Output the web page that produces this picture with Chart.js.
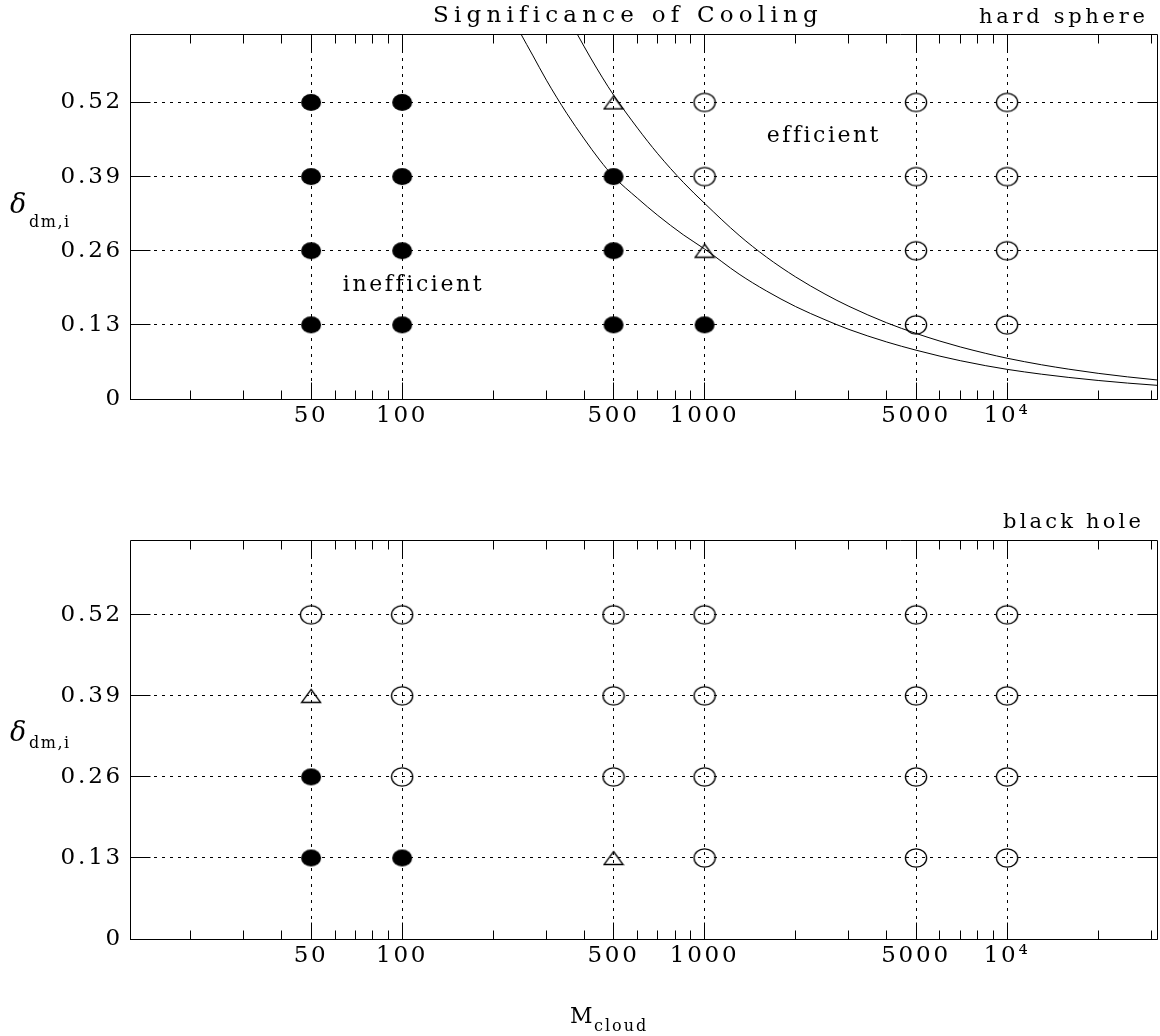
<!DOCTYPE html>
<html><head><meta charset="utf-8">
<script src="https://cdn.jsdelivr.net/npm/chart.js@4/dist/chart.umd.min.js"></script>
<style>
html,body{margin:0;padding:0;background:#fff;overflow:hidden;}
#wrap{position:relative;width:1160px;height:1036px;background:#fff;overflow:hidden;}
canvas{position:absolute;left:0;}
#c1{top:0;}
#c2{top:460px;}
</style></head><body>
<div id="wrap"><canvas id="c1" width="1180" height="460"></canvas><canvas id="c2" width="1180" height="576"></canvas></div>
<script>
// ---------- axis ticks ----------
const massTicks = [50, 100, 500, 1000, 5000, 10000];
const massTickLabels = ['50', '100', '500', '1000', '5000', '10⁴'];
const massMinorTicks = [20,30,40,60,70,80,90,200,300,400,600,700,800,900,2000,3000,4000,6000,7000,8000,9000,20000,30000];
const deltaTicks = [0, 0.13, 0.26, 0.39, 0.52];
const deltaTickLabels = ['0', '0.13', '0.26', '0.39', '0.52'];
const massMin = 12.6, massMax = 31300;
const deltaMin = 0, deltaMax = 0.64;

// ---------- hard sphere panel ----------
const hsInefficientMass  = [50, 50, 50, 50, 100, 100, 100, 100, 500, 500, 500, 1000];
const hsInefficientDelta = [0.13, 0.26, 0.39, 0.52, 0.13, 0.26, 0.39, 0.52, 0.13, 0.26, 0.39, 0.13];
const hsMarginalMass  = [500, 1000];
const hsMarginalDelta = [0.52, 0.26];
const hsEfficientMass  = [1000, 1000, 5000, 5000, 5000, 5000, 10000, 10000, 10000, 10000];
const hsEfficientDelta = [0.39, 0.52, 0.13, 0.26, 0.39, 0.52, 0.13, 0.26, 0.39, 0.52];

// boundary curves
const curveLowerMass  = [236, 247, 270, 300, 350, 400, 450, 500, 600, 700, 850, 1000, 1300, 1600, 2000, 2500, 3000, 4000, 5000, 6000, 7000, 8500, 10000, 13000, 16000, 20000, 25000, 31300];
const curveLowerDelta = [0.66, 0.64, 0.603, 0.559, 0.501, 0.456, 0.419, 0.39, 0.352, 0.322, 0.288, 0.263, 0.219, 0.1895, 0.162, 0.139, 0.122, 0.100, 0.0856, 0.0751, 0.0672, 0.0584, 0.052, 0.0435, 0.0378, 0.0325, 0.0279, 0.024];
const curveUpperMass  = [365, 379, 420, 460, 500, 600, 700, 850, 1000, 1300, 1600, 2000, 2500, 3000, 4000, 5000, 6000, 7000, 8500, 10000, 13000, 16000, 20000, 25000, 31300];
const curveUpperDelta = [0.656, 0.64, 0.598, 0.563, 0.533, 0.475, 0.430, 0.380, 0.343, 0.287, 0.249, 0.214, 0.184, 0.1625, 0.1336, 0.115, 0.1015, 0.0913, 0.080, 0.0715, 0.060, 0.0523, 0.045, 0.0388, 0.0334];

// ---------- black hole panel ----------
const bhInefficientMass  = [50, 50, 100];
const bhInefficientDelta = [0.13, 0.26, 0.13];
const bhMarginalMass  = [50, 500];
const bhMarginalDelta = [0.39, 0.13];
const bhEfficientMass  = [50, 100, 100, 100, 500, 500, 500, 1000, 1000, 1000, 1000, 5000, 5000, 5000, 5000, 10000, 10000, 10000, 10000];
const bhEfficientDelta = [0.52, 0.26, 0.39, 0.52, 0.26, 0.39, 0.52, 0.13, 0.26, 0.39, 0.52, 0.13, 0.26, 0.39, 0.52, 0.13, 0.26, 0.39, 0.52];

// ---------- marker images ----------
function makeMarker(kind) {
  const c = document.createElement('canvas');
  const g = c.getContext('2d');
  if (kind === 'filled') {
    c.width = 22; c.height = 19;
    g.fillStyle = '#000';
    g.beginPath(); g.ellipse(11, 9.5, 10, 8.5, 0, 0, Math.PI * 2); g.fill();
  } else if (kind === 'open') {
    c.width = 24; c.height = 22;
    g.strokeStyle = '#000'; g.lineWidth = 1.3;
    g.beginPath(); g.ellipse(12, 11, 10.6, 9.2, 0, 0, Math.PI * 2); g.stroke();
  } else {
    c.width = 22; c.height = 16;
    g.strokeStyle = '#000'; g.lineWidth = 1.3;
    g.beginPath(); g.moveTo(11, 1.5); g.lineTo(20.5, 14.5); g.lineTo(1.5, 14.5); g.closePath(); g.stroke();
  }
  return c;
}
const imgFilled = makeMarker('filled');
const imgOpen = makeMarker('open');
const imgTri = makeMarker('triangle');

function markerDataset(label, mass, delta, img) {
  return { label, data: mass.map((m, i) => ({ x: m, y: delta[i] })), showLine: false,
           pointStyle: img, pointRadius: 10, pointHoverRadius: 10 };
}
function curveDataset(label, mass, delta) {
  return { label, data: mass.map((m, i) => ({ x: m, y: delta[i] })), showLine: true,
           pointRadius: 0, pointHoverRadius: 0, borderColor: '#000', borderWidth: 1,
           cubicInterpolationMode: 'monotone', fill: false };
}

// ---------- text items per canvas ----------
const textItems = {
  c1: [
    { text: 'Significance of Cooling', x: 433, y: 22, font: '23px "DejaVu Serif"', spacing: 5.2 },
    { text: 'hard sphere', x: 979, y: 23, font: '21px "DejaVu Serif"', spacing: 3.7 },
    { text: 'inefficient', dataX: 108, dataY: 0.20, font: '22px "DejaVu Serif"', spacing: 2.6, align: 'center', baseline: 'middle' },
    { text: 'efficient', dataX: 2455, dataY: 0.46, font: '22px "DejaVu Serif"', spacing: 2.5, align: 'center', baseline: 'middle' },
    { text: 'δ', x: 10, y: 213, font: 'italic 27px "DejaVu Serif"', spacing: 0 },
    { text: 'dm,i', x: 29, y: 227, font: '16px "DejaVu Serif"', spacing: 1.5 }
  ],
  c2: [
    { text: 'black hole', x: 1003, y: 68, font: '21px "DejaVu Serif"', spacing: 3.2 },
    { text: 'δ', x: 10, y: 281, font: 'italic 27px "DejaVu Serif"', spacing: 0 },
    { text: 'dm,i', x: 29, y: 288, font: '16px "DejaVu Serif"', spacing: 1.5 },
    { text: 'M', x: 570, y: 563, font: '22px "DejaVu Serif"', spacing: 0 },
    { text: 'cloud', x: 594, y: 571, font: '16px "DejaVu Serif"', spacing: 2 }
  ]
};

function align(p) { return Math.round(p - 0.5) + 0.5; }

const spacingPlugin = {
  id: 'spacing',
  beforeDraw(chart) { chart.ctx.letterSpacing = '2.8px'; }
};

const framePlugin = {
  id: 'frame',
  afterDraw(chart) {
    const { ctx, chartArea: a, scales: { x, y } } = chart;
    ctx.save();
    ctx.setLineDash([]);
    ctx.strokeStyle = '#000';
    ctx.lineWidth = 1;
    const L = align(a.left), R = align(a.right), T = align(a.top), B = align(a.bottom);
    ctx.beginPath();
    ctx.rect(L, T, R - L, B - T);
    const seg = (x1, y1, x2, y2) => { ctx.moveTo(x1, y1); ctx.lineTo(x2, y2); };
    massTicks.forEach(v => { const p = align(x.getPixelForValue(v)); seg(p, B, p, B - 17); seg(p, T, p, T + 17); });
    massMinorTicks.forEach(v => { const p = align(x.getPixelForValue(v)); seg(p, B, p, B - 9); seg(p, T, p, T + 9); });
    deltaTicks.forEach(v => { const p = align(y.getPixelForValue(v)); seg(L, p, L + 20, p); seg(R, p, R - 20, p); });
    ctx.stroke();
    ctx.restore();

    const items = textItems[chart.canvas.id] || [];
    items.forEach(t => {
      ctx.save();
      ctx.font = t.font;
      ctx.fillStyle = '#000';
      ctx.textAlign = t.align || 'left';
      ctx.textBaseline = t.baseline || 'alphabetic';
      ctx.letterSpacing = (t.spacing || 0) + 'px';
      let px = t.x, py = t.y;
      if (t.dataX !== undefined) px = x.getPixelForValue(t.dataX) + (t.align === 'center' ? (t.spacing || 0) / 2 : 0);
      if (t.dataY !== undefined) py = y.getPixelForValue(t.dataY);
      ctx.fillText(t.text, px, py);
      ctx.restore();
    });
  }
};

const plotRight = 1157;

function makeChart(id, datasets, padTop, xHeight) {
  const chart = new Chart(document.getElementById(id), {
    type: 'scatter',
    data: { datasets },
    options: {
      responsive: false,
      animation: false,
      devicePixelRatio: 1,
      layout: { padding: { top: padTop, right: 23, left: 0, bottom: 0 } },
      plugins: { legend: { display: false }, tooltip: { enabled: false }, title: { display: false } },
      events: [],
      scales: {
        x: {
          type: 'logarithmic', position: 'bottom', min: massMin, max: massMax,
          afterBuildTicks: s => { s.ticks = massTicks.map(v => ({ value: v })); },
          afterFit: s => { s.height = xHeight; s.paddingLeft = 0; s.paddingRight = 0; },
          grid: { display: true, drawOnChartArea: true, drawTicks: false, color: '#000', lineWidth: 1 },
          border: { display: false, dash: [3, 5] },
          ticks: {
            autoSkip: false, maxRotation: 0, minRotation: 0, padding: 3, color: '#000',
            font: { family: 'DejaVu Serif', size: 23 },
            callback: v => { const i = massTicks.indexOf(v); return i >= 0 ? massTickLabels[i] : ''; }
          }
        },
        y: {
          type: 'linear', position: 'left', min: deltaMin, max: deltaMax,
          afterBuildTicks: s => { s.ticks = deltaTicks.map(v => ({ value: v })); },
          afterFit: s => { s.width = 130; },
          grid: { display: true, drawOnChartArea: true, drawTicks: false, color: '#000', lineWidth: 1 },
          border: { display: false, dash: [3, 5] },
          ticks: {
            autoSkip: false, padding: 7, color: '#000',
            font: { family: 'DejaVu Serif', size: 23 },
            callback: v => { const i = deltaTicks.indexOf(v); return i >= 0 ? deltaTickLabels[i] : ''; }
          }
        }
      }
    },
    plugins: [spacingPlugin, framePlugin]
  });
  // nudge the right padding so the plot frame ends where the reference frame ends
  for (let k = 0; k < 4; k++) {
    const d = chart.chartArea.right - plotRight;
    if (Math.abs(d) < 0.5) break;
    chart.options.layout.padding.right = Math.max(0, chart.options.layout.padding.right + d);
    chart.update();
  }
  return chart;
}

makeChart('c1', [
  markerDataset('inefficient', hsInefficientMass, hsInefficientDelta, imgFilled),
  markerDataset('marginal', hsMarginalMass, hsMarginalDelta, imgTri),
  markerDataset('efficient', hsEfficientMass, hsEfficientDelta, imgOpen),
  curveDataset('lower boundary', curveLowerMass, curveLowerDelta),
  curveDataset('upper boundary', curveUpperMass, curveUpperDelta)
], 34, 61);

makeChart('c2', [
  markerDataset('inefficient', bhInefficientMass, bhInefficientDelta, imgFilled),
  markerDataset('marginal', bhMarginalMass, bhMarginalDelta, imgTri),
  markerDataset('efficient', bhEfficientMass, bhEfficientDelta, imgOpen)
], 80, 97);
</script>
</body></html>
